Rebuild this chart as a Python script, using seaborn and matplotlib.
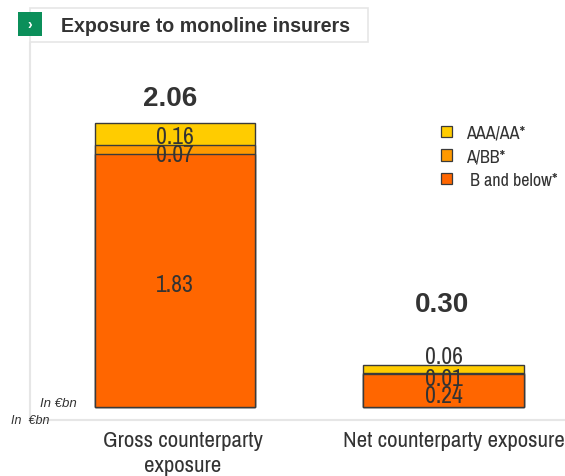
import matplotlib
matplotlib.use("Agg")
import matplotlib.pyplot as plt
from matplotlib.patches import Rectangle, Patch
from matplotlib.transforms import ScaledTranslation
from matplotlib import font_manager as fm
import seaborn as sns
import pandas as pd

categories = ["Gross counterparty\nexposure", "Net counterparty exposure"]
b_and_below = [1.83, 0.24]
a_bb = [0.07, 0.01]
aaa_aa = [0.16, 0.06]
totals = ["2.06", "0.30"]
series_names = ["AAA/AA*", "A/BB*", " B and below*"]
title = "Exposure to monoline insurers"
unit = "In €bn"
unit2 = "In  €bn"

W, H = 565, 477
DARK = "#333333"
GRID = "#e6e6e6"
EDGE = "#3a3a3a"
COLORS = ["#FFCC00", "#FF9900", "#FF6600"]

names = {f.name for f in fm.fontManager.ttflist}
SANS = "Liberation Sans"
NARROW = SANS
SCALE = 0.8
for cand in ["Liberation Sans Narrow", "Archivo Narrow", "PT Sans Narrow", "Roboto Condensed"]:
    if cand in names:
        NARROW = cand
        SCALE = 1.0
        break

sns.set_theme(style="white")
plt.rcParams["font.family"] = [SANS, "DejaVu Sans"]

fig = plt.figure(figsize=(W / 100, H / 100), dpi=100, facecolor="white")
L, R, T, B = 30, 565, 44, 421
ax = fig.add_axes([L / W, 1 - B / H, (R - L) / W, (B - T) / H])

df = pd.DataFrame({"cat": categories, "low": b_and_below, "mid": a_bb, "high": aaa_aa})
df["c1"] = df["low"]
df["c2"] = df["low"] + df["mid"]
df["c3"] = df["c2"] + df["high"]

for col, color in zip(["c3", "c2", "c1"], COLORS):
    sns.barplot(data=df, x="cat", y=col, order=categories, color=color, saturation=1,
                width=0.596, edgecolor=EDGE, linewidth=1.0, ax=ax, zorder=3)

ax.set_xlim(-0.54, 1.4525)
ax.set_ylim(-12.5 / 137.9, (407.5 - 44) / 137.9)
ax.set_ylabel("")
ax.set_xlabel("")
ax.set_yticks([])
ax.tick_params(axis="x", length=0, pad=7)
ax.set_xticks(range(len(categories)))
ax.set_xticklabels(categories, fontfamily=NARROW, fontsize=16.5 * SCALE, color=DARK, linespacing=1.3)
shifts = [8, 10]
for lab, s in zip(ax.get_xticklabels(), shifts):
    lab.set_transform(lab.get_transform() + ScaledTranslation(s / 100, 0, fig.dpi_scale_trans))
sns.despine(ax=ax, top=True, right=True)
for side in ("left", "bottom"):
    ax.spines[side].set_color(GRID)
    ax.spines[side].set_linewidth(1.5)

def seg(x, y, txt, dy=0):
    ax.annotate(txt, (x, y), xytext=(0, dy), textcoords="offset pixels", ha="center", va="center",
                fontfamily=NARROW, fontsize=17 * SCALE, color=DARK, zorder=5)

for i, (lo, mi, hi) in enumerate(zip(b_and_below, a_bb, aaa_aa)):
    if i == 0:
        seg(i, lo / 2, f"{lo:.2f}", -4)
        seg(i, lo + mi / 2, f"{mi:.2f}", -5)
        seg(i, lo + mi + hi / 2, f"{hi:.2f}", -3)
    else:
        seg(i, lo / 2, f"{lo:.2f}", -5)
        seg(i, lo + mi / 2, f"{mi:.2f}", -5)
        seg(i, lo + mi + hi, f"{hi:.2f}", 8)

tot_tops = df["c3"].tolist()
for i, (t, y) in enumerate(zip(totals, tot_tops)):
    ax.annotate(t, (i, y), xytext=(-5 if i == 0 else -2, 25 if i == 0 else 61), textcoords="offset pixels",
                ha="center", va="center", fontsize=20, fontweight="bold", color=DARK, zorder=5)

handles = [Patch(facecolor=c, edgecolor=EDGE, linewidth=0.9) for c in COLORS]
ax.legend(handles, series_names, loc="upper left", bbox_to_anchor=((441 - L) / (R - L), 1 - (126 - T) / (B - T)),
          frameon=False, prop={"family": NARROW, "size": 13 * (1 if SCALE == 1 else 0.85)}, labelcolor=DARK,
          handlelength=0.61, handleheight=0.61, labelspacing=0.41, handletextpad=0.75, borderpad=0, borderaxespad=0)

def px(x, y):
    return x / W, 1 - y / H

fig.add_artist(Rectangle(px(30, 43), 338 / W, 34 / H, transform=fig.transFigure,
                         facecolor="white", edgecolor=GRID, linewidth=1.2))
fig.add_artist(Rectangle(px(18, 37), 24 / W, 24 / H, transform=fig.transFigure,
                         facecolor="#0B8F5A", edgecolor="none"))
fig.text(*px(30, 25), "›", color="white", fontsize=10, fontweight="bold", ha="center", va="center")
fig.text(*px(61, 27), title, color=DARK, fontsize=14.1, fontweight="bold", ha="left", va="center")
fig.text(*px(40, 404), unit, color=DARK, fontsize=9.5, style="italic", ha="left", va="center")
fig.text(*px(11, 421), unit2, color=DARK, fontsize=9, style="italic", ha="left", va="center")

fig.savefig("out.png", dpi=100)
